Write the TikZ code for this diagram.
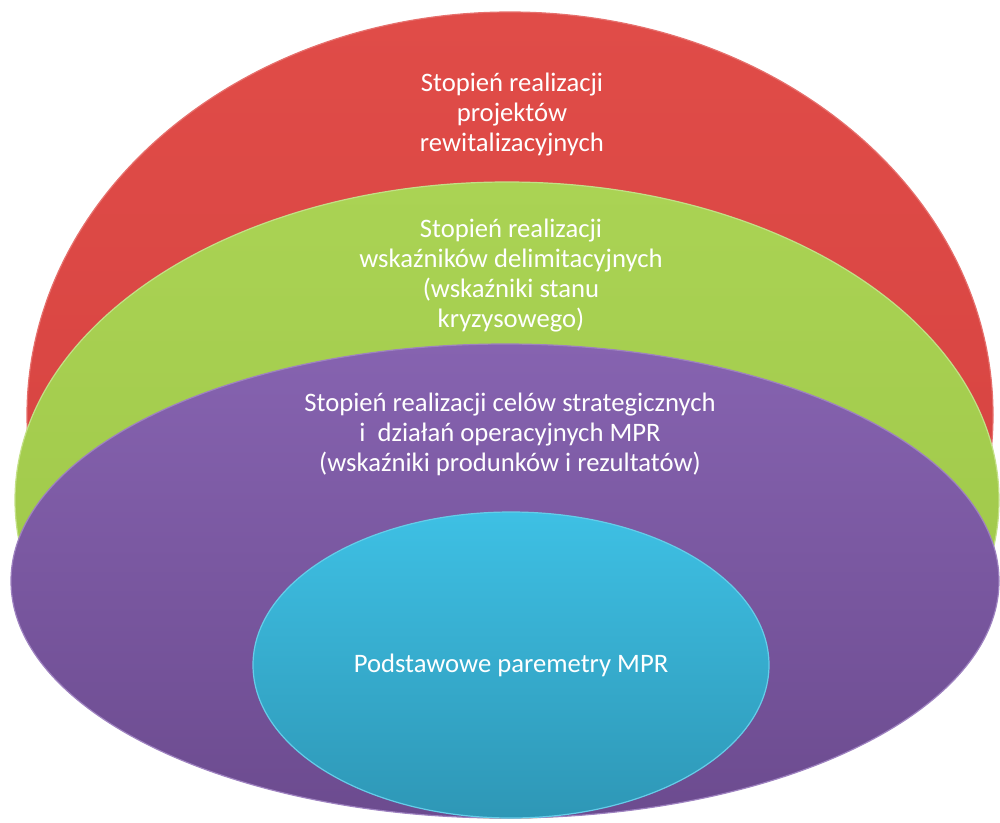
\documentclass[tikz,border=0pt]{standalone}
\usepackage{fontspec}
\setmainfont{Carlito}
\usetikzlibrary{shapes.geometric}
\definecolor{redA}{HTML}{E04C48}
\definecolor{redB}{HTML}{D2403E}
\definecolor{grnA}{HTML}{AAD354}
\definecolor{grnB}{HTML}{9CC446}
\definecolor{purA}{HTML}{8663B0}
\definecolor{purB}{HTML}{6C4B8F}
\definecolor{cyaA}{HTML}{3EC0E4}
\definecolor{cyaB}{HTML}{2E97B6}
\tikzset{
  layer/.style={ellipse, inner sep=0pt, line width=0.9pt},
  lbl/.style={text=white, align=center, font=\fontsize{20}{22.5}\selectfont},
}
\begin{document}
\begin{tikzpicture}[x=0.75pt,y=-0.75pt]
\useasboundingbox (0,0) rectangle (1000,822);
\node[layer, minimum width=724.5pt, minimum height=604.5pt, top color=redA, bottom color=redB, draw=redA!80!white] (red) at (510,415) {};
\node[layer, minimum width=738pt, minimum height=477pt, top color=grnA, bottom color=grnB, draw=grnA!70!white] (green) at (507,500) {};
\node[layer, minimum width=741pt, minimum height=355.5pt, top color=purA, bottom color=purB, draw=purA!80!white] (purple) at (505,581) {};
\node[layer, minimum width=387pt, minimum height=229.5pt, top color=cyaA, bottom color=cyaB, draw=cyaA!80!white] (cyan) at (511,665) {};
\node[lbl] (tred) at (512,115) {Stopień realizacji\\projektów\\rewitalizacyjnych};
\node[lbl] (tgreen) at (511,276) {Stopień realizacji\\wskaźników delimitacyjnych\\(wskaźniki stanu\\kryzysowego)};
\node[lbl] (tpurple) at (510,434) {Stopień realizacji celów strategicznych\\i~ działań operacyjnych MPR\\(wskaźniki produnków i rezultatów)};
\node[lbl] (tcyan) at (511,665) {Podstawowe paremetry MPR};
\end{tikzpicture}
\end{document}
